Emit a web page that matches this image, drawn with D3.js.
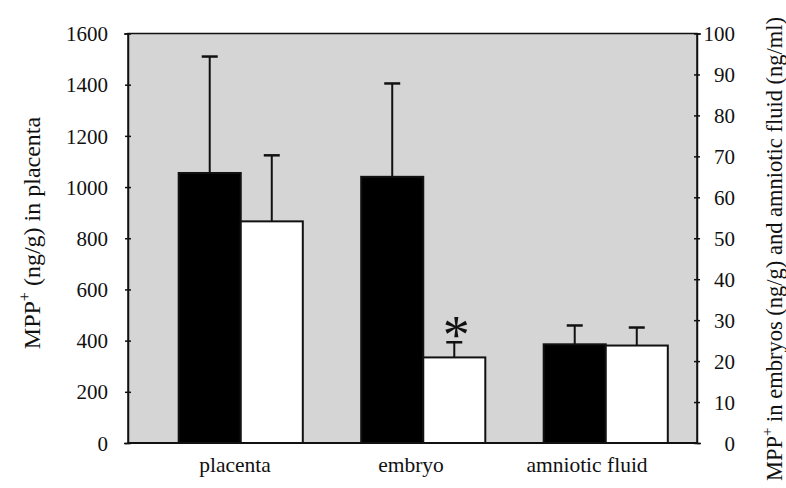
<!DOCTYPE html>
<html>
<head>
<meta charset="utf-8">
<script src="https://cdn.jsdelivr.net/npm/d3@7"></script>
<style>
  body { margin: 0; background: #fff; }
  svg text { font-family: "Liberation Serif", "DejaVu Serif", serif; fill: #111; }
</style>
</head>
<body>
<svg width="786" height="488"></svg>
<script>
// categories and two series (black = control, white = treated)
var categories = ["placenta", "embryo", "amniotic fluid"]
var series = ["control", "treated"]
// placenta read on left axis (ng/g), embryo and amniotic fluid on right axis
var axisOf = ["left", "right", "right"]
var controlMean = [1055, 65.0, 24.1]
var controlErr = [455, 22.8, 4.6]
var treatedMean = [866, 20.9, 23.8]
var treatedErr = [258, 3.7, 4.4]
var starred = [null, "treated", null]
var leftTicks = [0, 200, 400, 600, 800, 1000, 1200, 1400, 1600]
var rightTicks = [0, 10, 20, 30, 40, 50, 60, 70, 80, 90, 100]

var serif = "'Liberation Serif', 'DejaVu Serif', serif"
var svg = d3.select("svg")
var plot = { left: 128, right: 697, top: 33.5, bottom: 443 }

var yL = d3.scaleLinear().domain([0, 1600]).range([plot.bottom, plot.top])
var yR = d3.scaleLinear().domain([0, 100]).range([plot.bottom, plot.top])

var x0 = d3.scaleBand().domain(categories).range([149.5, 697]).paddingInner(0.32).paddingOuter(0.16)
var x1 = d3.scaleBand().domain(series).range([0, x0.bandwidth()])
var xLabel = d3.scalePoint().domain(categories).range([235, 587])

// gray plot background
svg.append("rect")
  .attr("x", plot.left).attr("y", plot.top)
  .attr("width", plot.right - plot.left).attr("height", plot.bottom - plot.top)
  .attr("fill", "#d5d5d5").attr("stroke", "#111").attr("stroke-width", 1.5)

var rows = []
categories.forEach(function (c, i) {
  var y = axisOf[i] == "left" ? yL : yR
  rows.push({ cat: c, s: "control", v: controlMean[i], e: controlErr[i], y: y, star: starred[i] == "control" })
  rows.push({ cat: c, s: "treated", v: treatedMean[i], e: treatedErr[i], y: y, star: starred[i] == "treated" })
})

var bars = svg.append("g").selectAll("g").data(rows).enter().append("g")
var cx = d => x0(d.cat) + x1(d.s) + x1.bandwidth() / 2

// error bars (upper only)
bars.append("line")
  .attr("x1", cx).attr("x2", cx)
  .attr("y1", d => d.y(d.v))
  .attr("y2", d => d.y(d.v + d.e))
  .attr("stroke", "#111").attr("stroke-width", 2)
bars.append("line")
  .attr("x1", d => cx(d) - 8).attr("x2", d => cx(d) + 8)
  .attr("y1", d => d.y(d.v + d.e))
  .attr("y2", d => d.y(d.v + d.e))
  .attr("stroke", "#111").attr("stroke-width", 2.5)

bars.append("rect")
  .attr("x", d => x0(d.cat) + x1(d.s))
  .attr("width", x1.bandwidth())
  .attr("y", d => d.y(d.v))
  .attr("height", d => plot.bottom - d.y(d.v))
  .attr("fill", d => d.s == "control" ? "#000" : "#fff")
  .attr("stroke", "#111").attr("stroke-width", 2)

bars.filter(d => d.star).append("text")
  .attr("x", d => cx(d) + 2)
  .attr("y", d => d.y(d.v + d.e) + 11)
  .attr("text-anchor", "middle")
  .style("font-family", serif)
  .style("font-size", "54px")
  .text("*")

// axes
var leftAxis = svg.append("g").attr("transform", "translate(" + plot.left + ",0)")
  .call(d3.axisLeft(yL).tickValues(leftTicks).tickSize(4).tickPadding(18).tickFormat(d3.format("d")))
var rightAxis = svg.append("g").attr("transform", "translate(" + plot.right + ",0)")
  .call(d3.axisRight(yR).tickValues(rightTicks).tickSize(4).tickPadding(4).tickFormat(d3.format("d")))

;[leftAxis, rightAxis].forEach(function (a) {
  a.attr("font-family", serif)
  a.select(".domain").attr("stroke", "#111").attr("stroke-width", 1.5)
  a.selectAll(".tick line").attr("stroke", "#111").attr("stroke-width", 1.5).attr("x1", -3).attr("x2", 3)
  a.selectAll("text").style("font-family", serif).style("font-size", "21px").attr("fill", "#111").attr("dy", "0.34em")
})
leftAxis.selectAll("text").attr("x", -20)
rightAxis.selectAll("text").attr("text-anchor", "end").attr("x", 38)

// bottom axis line
svg.append("line")
  .attr("x1", plot.left).attr("x2", plot.right)
  .attr("y1", plot.bottom).attr("y2", plot.bottom)
  .attr("stroke", "#111").attr("stroke-width", 2)

// category labels
svg.append("g").selectAll("text").data(categories).enter().append("text")
  .attr("x", d => xLabel(d))
  .attr("y", 472)
  .attr("text-anchor", "middle")
  .style("font-family", serif)
  .style("font-size", "21.5px")
  .text(d => d)

// axis titles
var lt = svg.append("text")
  .attr("transform", "translate(40,233) rotate(-90)")
  .attr("text-anchor", "middle")
  .style("font-family", serif)
  .style("font-size", "24px")
lt.append("tspan").text("MPP")
lt.append("tspan").attr("dy", -10).style("font-size", "16px").text("+")
lt.append("tspan").attr("dy", 10).text(" (ng/g) in placenta")

var rt = svg.append("text")
  .attr("transform", "translate(782,249) rotate(-90)")
  .attr("text-anchor", "middle")
  .style("font-family", serif)
  .style("font-size", "22.5px")
rt.append("tspan").text("MPP")
rt.append("tspan").attr("dy", -10).style("font-size", "15px").text("+")
rt.append("tspan").attr("dy", 10).text(" in embryos (ng/g) and amniotic fluid (ng/ml)")
</script>
</body>
</html>
